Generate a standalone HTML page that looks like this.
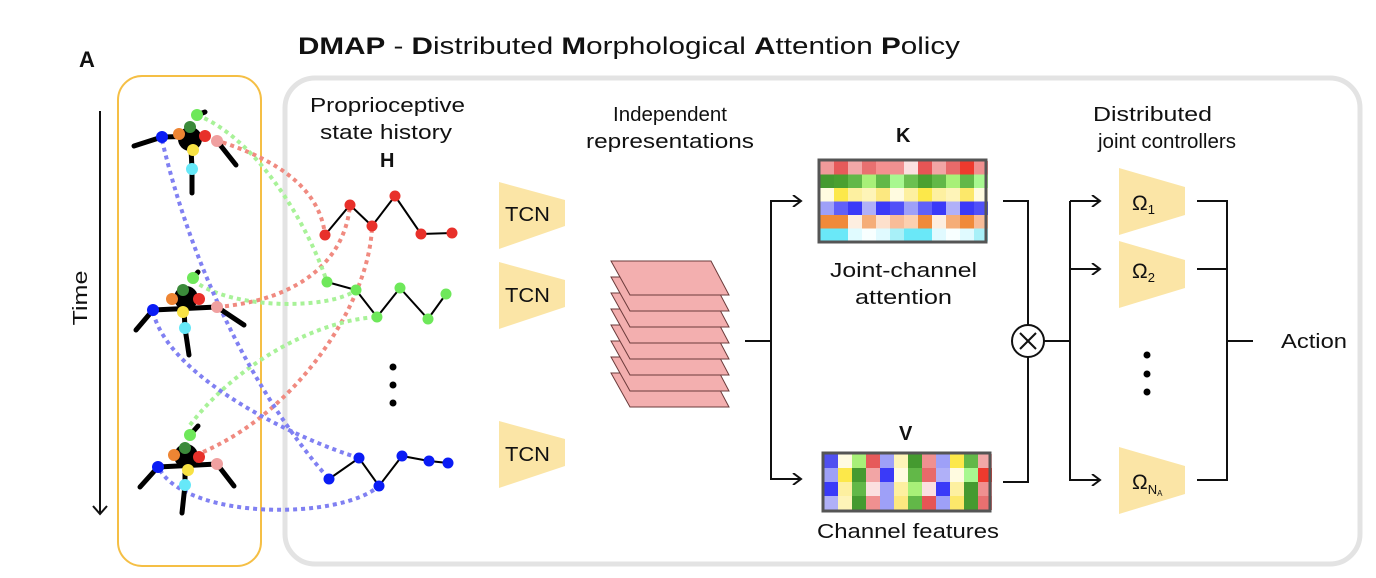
<!DOCTYPE html>
<html><head><meta charset="utf-8"><style>
html,body{margin:0;padding:0;background:#fff;}
svg{display:block;}
text{font-family:"Liberation Sans",sans-serif;fill:#111;}
</style></head><body>
<svg width="1376" height="578" viewBox="0 0 1376 578" xmlns="http://www.w3.org/2000/svg">
<defs>
<marker id="ar" markerWidth="12" markerHeight="12" refX="10" refY="6" orient="auto" markerUnits="userSpaceOnUse">
<path d="M2,0 L10,6 L2,12" fill="none" stroke="#111" stroke-width="2"/>
</marker>
</defs>
<!-- title -->
<text x="298" y="54" font-size="24" textLength="662" lengthAdjust="spacingAndGlyphs"><tspan font-weight="bold">DMAP</tspan> - <tspan font-weight="bold">D</tspan>istributed <tspan font-weight="bold">M</tspan>orphological <tspan font-weight="bold">A</tspan>ttention <tspan font-weight="bold">P</tspan>olicy</text>
<text x="79" y="67" font-size="22" font-weight="bold">A</text>
<!-- boxes -->
<rect x="118" y="76" width="143" height="490" rx="24" fill="none" stroke="#f5bf45" stroke-width="2"/>
<rect x="285" y="78" width="1075" height="486" rx="30" fill="none" stroke="#e3e3e3" stroke-width="5"/>
<!-- time -->
<line x1="100" y1="111" x2="100" y2="514" stroke="#111" stroke-width="2"/>
<path d="M93,506 L100,514 L107,506" fill="none" stroke="#111" stroke-width="2"/>
<text x="0" y="0" font-size="20" transform="translate(87,298) rotate(-90)" text-anchor="middle" textLength="55" lengthAdjust="spacingAndGlyphs">Time</text>

<!-- dotted curves -->
<g fill="none" stroke-width="4" stroke-dasharray="4 4">
<path d="M215,140 C280,160 320,190 325,235" stroke="#f08a80"/>
<path d="M217,307 C300,300 345,260 350,205" stroke="#f08a80"/>
<path d="M203,452 C300,410 370,300 372,226" stroke="#f08a80"/>
<path d="M197,115 C260,140 310,230 327,282" stroke="#a8f298"/>
<path d="M193,280 C230,310 330,310 356,290" stroke="#a8f298"/>
<path d="M190,425 C240,360 320,320 377,317" stroke="#a8f298"/>
<path d="M162,140 C190,260 250,390 329,479" stroke="#8080f2"/>
<path d="M153,312 C170,380 300,440 359,458" stroke="#8080f2"/>
<path d="M160,470 C190,520 340,520 379,486" stroke="#8080f2"/>
</g>

<!-- robots -->
<g stroke="#000" stroke-width="5" stroke-linecap="round">
<line x1="162" y1="137" x2="134" y2="146"/><line x1="217" y1="141" x2="236" y2="165"/><line x1="192" y1="169" x2="192" y2="193"/><line x1="197" y1="115" x2="205" y2="112"/>
<line x1="162" y1="137" x2="205" y2="136"/><line x1="190" y1="127" x2="192" y2="169"/>
</g>
<circle cx="190" cy="139" r="12" fill="#000"/>
<g>
<circle cx="162" cy="137" r="6" fill="#0a1cf5"/><circle cx="179" cy="134" r="6" fill="#ee8533"/><circle cx="190" cy="127" r="6" fill="#3b8a3a"/><circle cx="197" cy="115" r="6" fill="#6ee85a"/><circle cx="205" cy="136" r="6" fill="#e8302a"/><circle cx="217" cy="141" r="6" fill="#f0a0a0"/><circle cx="193" cy="150" r="6" fill="#f8e244"/><circle cx="192" cy="169" r="6" fill="#66e8f8"/>
</g>
<g stroke="#000" stroke-width="5" stroke-linecap="round">
<line x1="153" y1="310" x2="136" y2="330"/><line x1="217" y1="307" x2="244" y2="325"/><line x1="185" y1="328" x2="189" y2="355"/><line x1="193" y1="278" x2="198" y2="272"/>
<line x1="153" y1="310" x2="217" y2="307"/><line x1="183" y1="290" x2="185" y2="328"/>
</g>
<circle cx="186" cy="298" r="12" fill="#000"/>
<g>
<circle cx="153" cy="310" r="6" fill="#0a1cf5"/><circle cx="172" cy="299" r="6" fill="#ee8533"/><circle cx="183" cy="290" r="6" fill="#3b8a3a"/><circle cx="193" cy="278" r="6" fill="#6ee85a"/><circle cx="199" cy="299" r="6" fill="#e8302a"/><circle cx="217" cy="307" r="6" fill="#f0a0a0"/><circle cx="183" cy="312" r="6" fill="#f8e244"/><circle cx="185" cy="328" r="6" fill="#66e8f8"/>
</g>
<g stroke="#000" stroke-width="5" stroke-linecap="round">
<line x1="158" y1="467" x2="140" y2="487"/><line x1="217" y1="464" x2="234" y2="486"/><line x1="185" y1="485" x2="182" y2="513"/><line x1="190" y1="435" x2="198" y2="426"/>
<line x1="158" y1="467" x2="217" y2="464"/><line x1="185" y1="448" x2="185" y2="485"/>
</g>
<circle cx="186" cy="456" r="12" fill="#000"/>
<g>
<circle cx="158" cy="467" r="6" fill="#0a1cf5"/><circle cx="174" cy="455" r="6" fill="#ee8533"/><circle cx="185" cy="448" r="6" fill="#3b8a3a"/><circle cx="190" cy="435" r="6" fill="#6ee85a"/><circle cx="199" cy="457" r="6" fill="#e8302a"/><circle cx="217" cy="464" r="6" fill="#f0a0a0"/><circle cx="188" cy="470" r="6" fill="#f8e244"/><circle cx="185" cy="485" r="6" fill="#66e8f8"/>
</g>

<!-- plots -->
<polyline points="325,235 350,205 372,226 395,196 421,234 452,233" fill="none" stroke="#000" stroke-width="2"/>
<g fill="#e8302a"><circle cx="325" cy="235" r="5.5"/><circle cx="350" cy="205" r="5.5"/><circle cx="372" cy="226" r="5.5"/><circle cx="395" cy="196" r="5.5"/><circle cx="421" cy="234" r="5.5"/><circle cx="452" cy="233" r="5.5"/></g>
<polyline points="327,282 356,290 377,317 400,288 428,319 446,294" fill="none" stroke="#000" stroke-width="2"/>
<g fill="#6ee85a"><circle cx="327" cy="282" r="5.5"/><circle cx="356" cy="290" r="5.5"/><circle cx="377" cy="317" r="5.5"/><circle cx="400" cy="288" r="5.5"/><circle cx="428" cy="319" r="5.5"/><circle cx="446" cy="294" r="5.5"/></g>
<polyline points="329,479 359,458 379,486 402,456 429,461 448,463" fill="none" stroke="#000" stroke-width="2"/>
<g fill="#0a1cf5"><circle cx="329" cy="479" r="5.5"/><circle cx="359" cy="458" r="5.5"/><circle cx="379" cy="486" r="5.5"/><circle cx="402" cy="456" r="5.5"/><circle cx="429" cy="461" r="5.5"/><circle cx="448" cy="463" r="5.5"/></g>
<g fill="#000"><circle cx="393" cy="367" r="3.5"/><circle cx="393" cy="385" r="3.5"/><circle cx="393" cy="403" r="3.5"/></g>

<!-- text labels -->
<g font-size="20" lengthAdjust="spacingAndGlyphs">
<text x="310" y="112" textLength="155" lengthAdjust="spacingAndGlyphs">Proprioceptive</text>
<text x="320" y="139" textLength="132" lengthAdjust="spacingAndGlyphs">state history</text>
<text x="380" y="167" font-weight="bold">H</text>
<text x="613" y="121" textLength="114" lengthAdjust="spacingAndGlyphs">Independent</text>
<text x="586" y="148" textLength="168" lengthAdjust="spacingAndGlyphs">representations</text>
<text x="896" y="142" font-weight="bold">K</text>
<text x="830" y="277" textLength="147" lengthAdjust="spacingAndGlyphs">Joint-channel</text>
<text x="855" y="304" textLength="97" lengthAdjust="spacingAndGlyphs">attention</text>
<text x="899" y="440" font-weight="bold">V</text>
<text x="817" y="538" textLength="182" lengthAdjust="spacingAndGlyphs">Channel features</text>
<text x="1093" y="121" textLength="119" lengthAdjust="spacingAndGlyphs">Distributed</text>
<text x="1098" y="148" textLength="138" lengthAdjust="spacingAndGlyphs">joint controllers</text>
<text x="1281" y="348" textLength="66" lengthAdjust="spacingAndGlyphs">Action</text>
</g>

<!-- TCNs -->
<g fill="#fbe5a6">
<polygon points="499,182 565,200 565,226 499,249"/>
<polygon points="499,262 565,280 565,307 499,329"/>
<polygon points="499,421 565,439 565,466 499,488"/>
</g>
<g font-size="20"><text x="505" y="221" textLength="45" lengthAdjust="spacingAndGlyphs">TCN</text><text x="505" y="302" textLength="45" lengthAdjust="spacingAndGlyphs">TCN</text><text x="505" y="461" textLength="45" lengthAdjust="spacingAndGlyphs">TCN</text></g>

<!-- stack -->
<g fill="#f3afaf" stroke="#6b3b3b" stroke-width="1">
<polygon points="611,373 711,373 729,407 630,407"/>
<polygon points="611,357 711,357 729,391 630,391"/>
<polygon points="611,341 711,341 729,375 630,375"/>
<polygon points="611,325 711,325 729,359 630,359"/>
<polygon points="611,309 711,309 729,343 630,343"/>
<polygon points="611,293 711,293 729,327 630,327"/>
<polygon points="611,277 711,277 729,311 630,311"/>
<polygon points="611,261 711,261 729,295 630,295"/>
</g>

<!-- connectors -->
<g fill="none" stroke="#111" stroke-width="2">
<line x1="745" y1="341" x2="771" y2="341"/>
<polyline points="801,201 771,201 771,479 801,479"/>
<line x1="771" y1="201" x2="801" y2="201" marker-end="url(#ar)"/>
<line x1="771" y1="479" x2="801" y2="479" marker-end="url(#ar)"/>
<polyline points="1003,201 1028,201 1028,325"/>
<polyline points="1003,482 1028,482 1028,357"/>
<circle cx="1028" cy="341" r="16"/>
<line x1="1020" y1="333" x2="1036" y2="349"/><line x1="1036" y1="333" x2="1020" y2="349"/>
<line x1="1044" y1="341" x2="1070" y2="341"/>
<line x1="1070" y1="201" x2="1070" y2="481"/>
<line x1="1070" y1="201" x2="1100" y2="201" marker-end="url(#ar)"/>
<line x1="1070" y1="269" x2="1100" y2="269" marker-end="url(#ar)"/>
<line x1="1070" y1="480" x2="1100" y2="480" marker-end="url(#ar)"/>
<polyline points="1197,201 1227,201 1227,480 1197,480"/>
<line x1="1197" y1="269" x2="1227" y2="269"/>
<line x1="1227" y1="341" x2="1253" y2="341"/>
</g>

<!-- omegas -->
<g fill="#fbe5a6">
<polygon points="1119,168 1185,187 1185,215 1119,235"/>
<polygon points="1119,241 1185,260 1185,288 1119,308"/>
<polygon points="1119,447 1185,466 1185,494 1119,514"/>
</g>
<g font-size="21">
<text x="1132" y="210">Ω<tspan font-size="13" dy="4">1</tspan></text>
<text x="1132" y="278">Ω<tspan font-size="13" dy="4">2</tspan></text>
<text x="1132" y="489">Ω<tspan font-size="13" dy="5">N</tspan><tspan font-size="8" dy="2">A</tspan></text>
</g>
<g fill="#000"><circle cx="1147" cy="355" r="3.5"/><circle cx="1147" cy="374" r="3.5"/><circle cx="1147" cy="392" r="3.5"/></g>

<!-- K matrix -->
<g transform="translate(820,161)">
<g>
<rect x="0" width="14" height="14" fill="#f09a9a"/><rect x="14" width="14" height="14" fill="#e65a5a"/><rect x="28" width="14" height="14" fill="#f2a8a8"/><rect x="42" width="14" height="14" fill="#e87070"/><rect x="56" width="14" height="14" fill="#f59090"/><rect x="70" width="14" height="14" fill="#f09090"/><rect x="84" width="14" height="14" fill="#fbe0e0"/><rect x="98" width="14" height="14" fill="#e65555"/><rect x="112" width="14" height="14" fill="#f2a5a5"/><rect x="126" width="14" height="14" fill="#e86a6a"/><rect x="140" width="14" height="14" fill="#ee3a2e"/><rect x="154" width="14" height="14" fill="#f09090"/>
</g>
<g transform="translate(0,13.5)">
<rect x="0" width="14" height="14" fill="#459a30"/><rect x="14" width="14" height="14" fill="#4aa030"/><rect x="28" width="14" height="14" fill="#62b848"/><rect x="42" width="14" height="14" fill="#a8f078"/><rect x="56" width="14" height="14" fill="#62b848"/><rect x="70" width="14" height="14" fill="#a8f890"/><rect x="84" width="14" height="14" fill="#6cc050"/><rect x="98" width="14" height="14" fill="#4aa030"/><rect x="112" width="14" height="14" fill="#62b848"/><rect x="126" width="14" height="14" fill="#a8f078"/><rect x="140" width="14" height="14" fill="#62b848"/><rect x="154" width="14" height="14" fill="#a8f890"/>
</g>
<g transform="translate(0,27)">
<rect x="0" width="14" height="14" fill="#fffbe0"/><rect x="14" width="14" height="14" fill="#fce84a"/><rect x="28" width="14" height="14" fill="#fdf0a0"/><rect x="42" width="14" height="14" fill="#fef4b8"/><rect x="56" width="14" height="14" fill="#fce880"/><rect x="70" width="14" height="14" fill="#fffbe0"/><rect x="84" width="14" height="14" fill="#fdf0a0"/><rect x="98" width="14" height="14" fill="#fce84a"/><rect x="112" width="14" height="14" fill="#fdf0a0"/><rect x="126" width="14" height="14" fill="#fef4b8"/><rect x="140" width="14" height="14" fill="#fce86a"/><rect x="154" width="14" height="14" fill="#fffbe0"/>
</g>
<g transform="translate(0,40.5)">
<rect x="0" width="14" height="14" fill="#9ea0f8"/><rect x="14" width="14" height="14" fill="#6060f8"/><rect x="28" width="14" height="14" fill="#3a3af8"/><rect x="42" width="14" height="14" fill="#b0b0f8"/><rect x="56" width="14" height="14" fill="#3a3af8"/><rect x="70" width="14" height="14" fill="#5050f8"/><rect x="84" width="14" height="14" fill="#9ea0f8"/><rect x="98" width="14" height="14" fill="#6060f8"/><rect x="112" width="14" height="14" fill="#3a3af8"/><rect x="126" width="14" height="14" fill="#b0b0f8"/><rect x="140" width="14" height="14" fill="#3a3af8"/><rect x="154" width="14" height="14" fill="#5050f8"/>
</g>
<g transform="translate(0,54)">
<rect x="0" width="14" height="14" fill="#f08a3a"/><rect x="14" width="14" height="14" fill="#f08a3a"/><rect x="28" width="14" height="14" fill="#fdeee0"/><rect x="42" width="14" height="14" fill="#f5ad78"/><rect x="56" width="14" height="14" fill="#fde0cc"/><rect x="70" width="14" height="14" fill="#f8bc98"/><rect x="84" width="14" height="14" fill="#fcd0b0"/><rect x="98" width="14" height="14" fill="#f08a3a"/><rect x="112" width="14" height="14" fill="#fdeee0"/><rect x="126" width="14" height="14" fill="#f5ad78"/><rect x="140" width="14" height="14" fill="#f08a3a"/><rect x="154" width="14" height="14" fill="#f8bc98"/>
</g>
<g transform="translate(0,67.5)">
<rect x="0" width="14" height="13" fill="#6ae8f8"/><rect x="14" width="14" height="13" fill="#6ae8f8"/><rect x="28" width="14" height="13" fill="#e0fbff"/><rect x="42" width="14" height="13" fill="#f8ffff"/><rect x="56" width="14" height="13" fill="#e0faff"/><rect x="70" width="14" height="13" fill="#a8f0f8"/><rect x="84" width="14" height="13" fill="#6ae8f8"/><rect x="98" width="14" height="13" fill="#6ae8f8"/><rect x="112" width="14" height="13" fill="#e0faff"/><rect x="126" width="14" height="13" fill="#f8ffff"/><rect x="140" width="14" height="13" fill="#e0faff"/><rect x="154" width="14" height="13" fill="#a8f0f8"/>
</g>
<rect x="-1" y="-1" width="167" height="82" fill="none" stroke="#555" stroke-width="3"/>
</g>

<!-- V matrix -->
<g transform="translate(824,454)">
<g>
<rect x="0" width="14" height="14" fill="#5050f0"/><rect x="14" width="14" height="14" fill="#fffbe0"/><rect x="28" width="14" height="14" fill="#a8f078"/><rect x="42" width="14" height="14" fill="#e65a5a"/><rect x="56" width="14" height="14" fill="#9ea0f8"/><rect x="70" width="14" height="14" fill="#fef4b8"/><rect x="84" width="14" height="14" fill="#459a30"/><rect x="98" width="14" height="14" fill="#f09090"/><rect x="112" width="14" height="14" fill="#9ea0f8"/><rect x="126" width="14" height="14" fill="#fce84a"/><rect x="140" width="14" height="14" fill="#62b848"/><rect x="154" width="14" height="14" fill="#f2a8a8"/>
</g>
<g transform="translate(0,14)">
<rect x="0" width="14" height="14" fill="#9ea0f8"/><rect x="14" width="14" height="14" fill="#fce84a"/><rect x="28" width="14" height="14" fill="#459a30"/><rect x="42" width="14" height="14" fill="#f2a5a5"/><rect x="56" width="14" height="14" fill="#3a3af8"/><rect x="70" width="14" height="14" fill="#fffbe0"/><rect x="84" width="14" height="14" fill="#62b848"/><rect x="98" width="14" height="14" fill="#e86a6a"/><rect x="112" width="14" height="14" fill="#b0b0f8"/><rect x="126" width="14" height="14" fill="#fffbe0"/><rect x="140" width="14" height="14" fill="#a8f890"/><rect x="154" width="14" height="14" fill="#ee3a2e"/>
</g>
<g transform="translate(0,28)">
<rect x="0" width="14" height="14" fill="#3a3af8"/><rect x="14" width="14" height="14" fill="#fdf0a0"/><rect x="28" width="14" height="14" fill="#62b848"/><rect x="42" width="14" height="14" fill="#fbe0e0"/><rect x="56" width="14" height="14" fill="#9ea0f8"/><rect x="70" width="14" height="14" fill="#fdf0a0"/><rect x="84" width="14" height="14" fill="#a8f078"/><rect x="98" width="14" height="14" fill="#fbe0e0"/><rect x="112" width="14" height="14" fill="#3a3af8"/><rect x="126" width="14" height="14" fill="#fdf0a0"/><rect x="140" width="14" height="14" fill="#459a30"/><rect x="154" width="14" height="14" fill="#f09090"/>
</g>
<g transform="translate(0,42)">
<rect x="0" width="14" height="14" fill="#b0b0f8"/><rect x="14" width="14" height="14" fill="#fef4b8"/><rect x="28" width="14" height="14" fill="#459a30"/><rect x="42" width="14" height="14" fill="#f09090"/><rect x="56" width="14" height="14" fill="#9ea0f8"/><rect x="70" width="14" height="14" fill="#fce880"/><rect x="84" width="14" height="14" fill="#62b848"/><rect x="98" width="14" height="14" fill="#e65555"/><rect x="112" width="14" height="14" fill="#9ea0f8"/><rect x="126" width="14" height="14" fill="#fce86a"/><rect x="140" width="14" height="14" fill="#459a30"/><rect x="154" width="14" height="14" fill="#e87070"/>
</g>
<rect x="-1" y="-1" width="167" height="58" fill="none" stroke="#555" stroke-width="3"/>
</g>
</svg>
</body></html>
